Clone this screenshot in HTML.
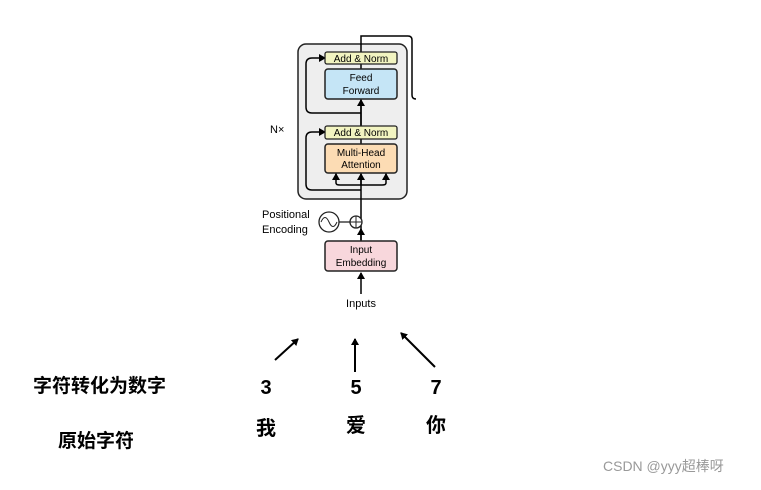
<!DOCTYPE html>
<html><head><meta charset="utf-8"><style>
body{margin:0;background:#fff;width:761px;height:485px;overflow:hidden}
</style></head><body>
<svg width="761" height="485" xmlns="http://www.w3.org/2000/svg" font-family="Liberation Sans, sans-serif">
<defs><marker id="a" markerWidth="8" markerHeight="8" refX="6" refY="4" orient="auto" markerUnits="userSpaceOnUse"><path d="M0,0 L7,4 L0,8 z" fill="#000"/></marker></defs>
<rect x="298" y="44" width="109" height="155" rx="8" fill="#eeeeee" stroke="#222" stroke-width="1.5"/>
<path d="M361,241 V52" stroke="#000" stroke-width="1.5" fill="none"/>
<path d="M361,52 V36 H408 Q412,36 412,40 V95 Q412,99 416,99" stroke="#000" stroke-width="1.5" fill="none"/>
<!-- residuals -->
<path d="M361,190 H312 Q306,190 306,184 V138 Q306,132 312,132 H325" stroke="#000" stroke-width="1.5" fill="none" marker-end="url(#a)"/>
<path d="M361,113 H312 Q306,113 306,107 V64 Q306,58 312,58 H325" stroke="#000" stroke-width="1.5" fill="none" marker-end="url(#a)"/>
<path d="M336,173 V183 Q336,185 340,185 H382 Q386,185 386,183 V173" stroke="#000" stroke-width="1.5" fill="none"/>
<path d="M336,180 V174" stroke="#000" stroke-width="1.5" marker-end="url(#a)"/>
<path d="M386,180 V174" stroke="#000" stroke-width="1.5" marker-end="url(#a)"/>
<path d="M361,185 V174" stroke="#000" stroke-width="1.5" marker-end="url(#a)"/>
<path d="M361,126 V100" stroke="#000" stroke-width="1.5" marker-end="url(#a)"/>
<path d="M361,240 V229" stroke="#000" stroke-width="1.5" marker-end="url(#a)"/>
<path d="M361,294 V273" stroke="#000" stroke-width="1.5" marker-end="url(#a)"/>
<rect x="325" y="52" width="72" height="12" rx="2" fill="#f2f4c1" stroke="#222" stroke-width="1.3"/>
<text x="361" y="62" font-size="10" text-anchor="middle">Add &amp; Norm</text>
<rect x="325" y="69" width="72" height="30" rx="3" fill="#c5e5f6" stroke="#222" stroke-width="1.5"/>
<text x="361" y="81" font-size="10" text-anchor="middle">Feed</text>
<text x="361" y="94" font-size="10" text-anchor="middle">Forward</text>
<rect x="325" y="126" width="72" height="13" rx="2" fill="#f2f4c1" stroke="#222" stroke-width="1.3"/>
<text x="361" y="136" font-size="10" text-anchor="middle">Add &amp; Norm</text>
<rect x="325" y="144" width="72" height="29" rx="3" fill="#fcdcb4" stroke="#222" stroke-width="1.5"/>
<text x="361" y="156" font-size="10" text-anchor="middle">Multi-Head</text>
<text x="361" y="168" font-size="10" text-anchor="middle">Attention</text>
<text x="270" y="133" font-size="11">N×</text>
<text x="262" y="218" font-size="11">Positional</text>
<text x="262" y="233" font-size="11">Encoding</text>
<circle cx="329" cy="222" r="10" fill="#fff" stroke="#222" stroke-width="1.3"/>
<path d="M321,222 Q325,213 329,222 T337,222" stroke="#222" fill="none"/>
<line x1="339" y1="222" x2="350" y2="222" stroke="#222" stroke-width="1.3"/>
<circle cx="356" cy="222" r="6" fill="#fff" stroke="#222" stroke-width="1.3"/>
<path d="M350,222 H362 M356,216 V228" stroke="#222"/>
<rect x="325" y="241" width="72" height="30" rx="3" fill="#f8d7dc" stroke="#222" stroke-width="1.5"/>
<text x="361" y="253" font-size="10" text-anchor="middle">Input</text>
<text x="361" y="266" font-size="10" text-anchor="middle">Embedding</text>
<text x="361" y="307" font-size="11" text-anchor="middle">Inputs</text>
<path d="M275,360 L298,339" stroke="#000" stroke-width="2" marker-end="url(#a)"/>
<path d="M355,372 V339" stroke="#000" stroke-width="2" marker-end="url(#a)"/>
<path d="M435,367 L401,333" stroke="#000" stroke-width="2" marker-end="url(#a)"/>
<g font-family="Liberation Sans, Noto Sans CJK SC, sans-serif" font-weight="bold">
<text x="33" y="392" font-size="19">字符转化为数字</text>
<text x="58" y="447" font-size="19">原始字符</text>
<text x="266" y="394" font-size="20" text-anchor="middle">3</text>
<text x="356" y="394" font-size="20" text-anchor="middle">5</text>
<text x="436" y="394" font-size="20" text-anchor="middle">7</text>
<text x="266" y="435" font-size="20" text-anchor="middle">我</text>
<text x="356" y="432" font-size="20" text-anchor="middle">爱</text>
<text x="436" y="432" font-size="20" text-anchor="middle">你</text>
</g>
<text x="603" y="471" font-size="14" fill="#999" font-family="Liberation Sans, Noto Sans CJK SC, sans-serif">CSDN @yyy超棒呀</text>
</svg>
</body></html>
